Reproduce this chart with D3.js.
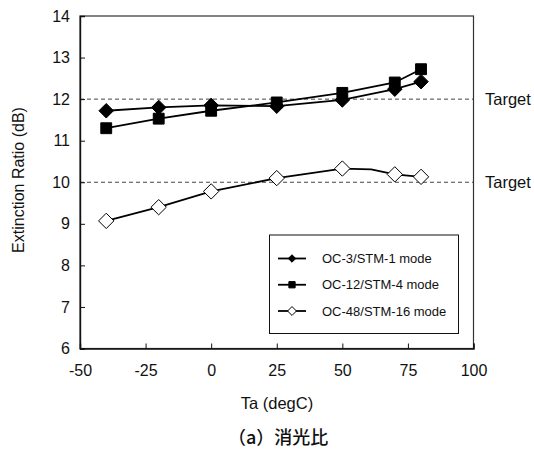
<!DOCTYPE html>
<html>
<head>
<meta charset="utf-8">
<script src="https://cdn.jsdelivr.net/npm/d3@7"></script>
<style>
  html, body { margin: 0; padding: 0; background: #fff; }
  svg { display: block; }
  text { font-family: "Liberation Sans", Arial, Helvetica, sans-serif; fill: #111; }
</style>
</head>
<body>
<svg id="chart" width="534" height="450"></svg>
<script>
// Ambient temperature (degC) at each measurement
const temps = [-40, -20, 0, 25, 50, 70, 80];

// Extinction ratio (dB) per transmission mode
const oc3Values  = [11.72, 11.80, 11.85, 11.83, 11.98, 12.24, 12.42];
const oc12Values = [11.30, 11.53, 11.72, 11.92, 12.15, 12.40, 12.72];
const oc48Values = [9.07, 9.40, 9.78, 10.10, 10.33, 10.19, 10.13];
// extra unmarked vertex of the OC-48 trace (temp, dB)
const oc48Bend = [61, 10.31];

const seriesNames = ["OC-3/STM-1 mode", "OC-12/STM-4 mode", "OC-48/STM-16 mode"];
const targets = [12, 10];
const xTicks = [-50, -25, 0, 25, 50, 75, 100];
const yTicks = [6, 7, 8, 9, 10, 11, 12, 13, 14];

const svg = d3.select("#chart");
const L = 80, R = 473.5, T = 16, B = 348.5;

const x = d3.scaleLinear().domain([-50, 100]).range([L, R]);
const y = d3.scaleLinear().domain([6, 14]).range([B, T]);

// marker symbols
const diamond = (s) => d3.symbol().type(d3.symbolDiamond2).size(s)();
const square = (s) => d3.symbol().type(d3.symbolSquare2).size(s)();

// plain hyphen for negatives
const fmt = (d) => String(d);

// target reference lines
svg.selectAll("line.target").data(targets).join("line")
  .attr("class", "target")
  .attr("x1", L).attr("x2", R)
  .attr("y1", d => y(d)).attr("y2", d => y(d))
  .attr("stroke", "#444").attr("stroke-width", 1)
  .attr("stroke-dasharray", "4,3");

svg.selectAll("text.target").data(targets).join("text")
  .attr("class", "target")
  .attr("x", 485).attr("y", d => y(d) + 5.5)
  .attr("font-size", 16.5)
  .text("Target");

// frame
svg.append("rect")
  .attr("x", L).attr("y", T).attr("width", R - L).attr("height", B - T)
  .attr("fill", "none").attr("stroke", "#333").attr("stroke-width", 1.2);

// axes with inward ticks
const yAxis = d3.axisLeft(y).tickValues(yTicks).tickSize(-5).tickPadding(14).tickFormat(fmt);
const gy = svg.append("g").attr("transform", `translate(${L},0)`).call(yAxis);
const xAxis = d3.axisBottom(x).tickValues(xTicks).tickSize(-5).tickPadding(16).tickFormat(fmt);
const gx = svg.append("g").attr("transform", `translate(0,${B})`).call(xAxis);
[gx, gy].forEach(g => {
  g.attr("font-size", null).attr("font-family", null);
  g.select(".domain").attr("stroke", "#111").attr("stroke-width", 1.4);
  g.selectAll(".tick line").attr("stroke", "#111").attr("stroke-width", 1);
  g.selectAll(".tick text").attr("font-size", 16).attr("fill", "#111");
});
gy.selectAll(".tick text").attr("dx", "4");

// axis titles
svg.append("text")
  .attr("transform", `translate(24,180) rotate(-90)`)
  .attr("text-anchor", "middle").attr("font-size", 16)
  .text("Extinction Ratio (dB)");

svg.append("text")
  .attr("x", 277).attr("y", 409)
  .attr("text-anchor", "middle").attr("font-size", 16.5)
  .text("Ta (degC)");

svg.append("text")
  .attr("x", 228).attr("y", 444)
  .attr("font-size", 18)
  .attr("font-weight", 500)
  .style("font-family", "'Noto Sans CJK JP', sans-serif")
  .text("（a）消光比");

// series
const toPts = (vals) => temps.map((t, i) => ({ t, v: vals[i], mark: true }));
const oc48Pts = toPts(oc48Values);
oc48Pts.splice(5, 0, { t: oc48Bend[0], v: oc48Bend[1], mark: false });

const series = [
  { name: seriesNames[1], pts: toPts(oc12Values), shape: square(150), fill: "#000" },
  { name: seriesNames[0], pts: toPts(oc3Values), shape: diamond(135), fill: "#000" },
  { name: seriesNames[2], pts: oc48Pts, shape: diamond(150), fill: "#fff" }
];

const line = d3.line().x(d => x(d.t)).y(d => y(d.v));

series.forEach(s => {
  svg.append("path").datum(s.pts)
    .attr("d", line).attr("fill", "none")
    .attr("stroke", "#000").attr("stroke-width", 1.8);
  svg.append("g").selectAll("path").data(s.pts.filter(p => p.mark)).join("path")
    .attr("d", s.shape)
    .attr("transform", d => `translate(${x(d.t)},${y(d.v)})`)
    .attr("fill", s.fill).attr("stroke", "#000").attr("stroke-width", 1);
});

// legend
const lg = svg.append("g");
lg.append("rect")
  .attr("x", 269.5).attr("y", 235).attr("width", 189).attr("height", 98.5)
  .attr("fill", "#fff").attr("stroke", "#111").attr("stroke-width", 1);

const legendItems = [
  { name: seriesNames[0], shape: diamond(36), fill: "#000" },
  { name: seriesNames[1], shape: square(50), fill: "#000" },
  { name: seriesNames[2], shape: diamond(50), fill: "#fff" }
];
const rowY = d3.scalePoint().domain(legendItems.map(d => d.name)).range([258.5, 311]);

legendItems.forEach(it => {
  const cy = rowY(it.name);
  lg.append("line").attr("x1", 278).attr("x2", 306).attr("y1", cy).attr("y2", cy)
    .attr("stroke", "#000").attr("stroke-width", 1.8);
  lg.append("path").attr("d", it.shape)
    .attr("transform", `translate(292,${cy})`)
    .attr("fill", it.fill).attr("stroke", "#000").attr("stroke-width", 1);
  lg.append("text").attr("x", 322).attr("y", cy + 4.5)
    .attr("font-size", 13).text(it.name);
});
</script>
</body>
</html>
